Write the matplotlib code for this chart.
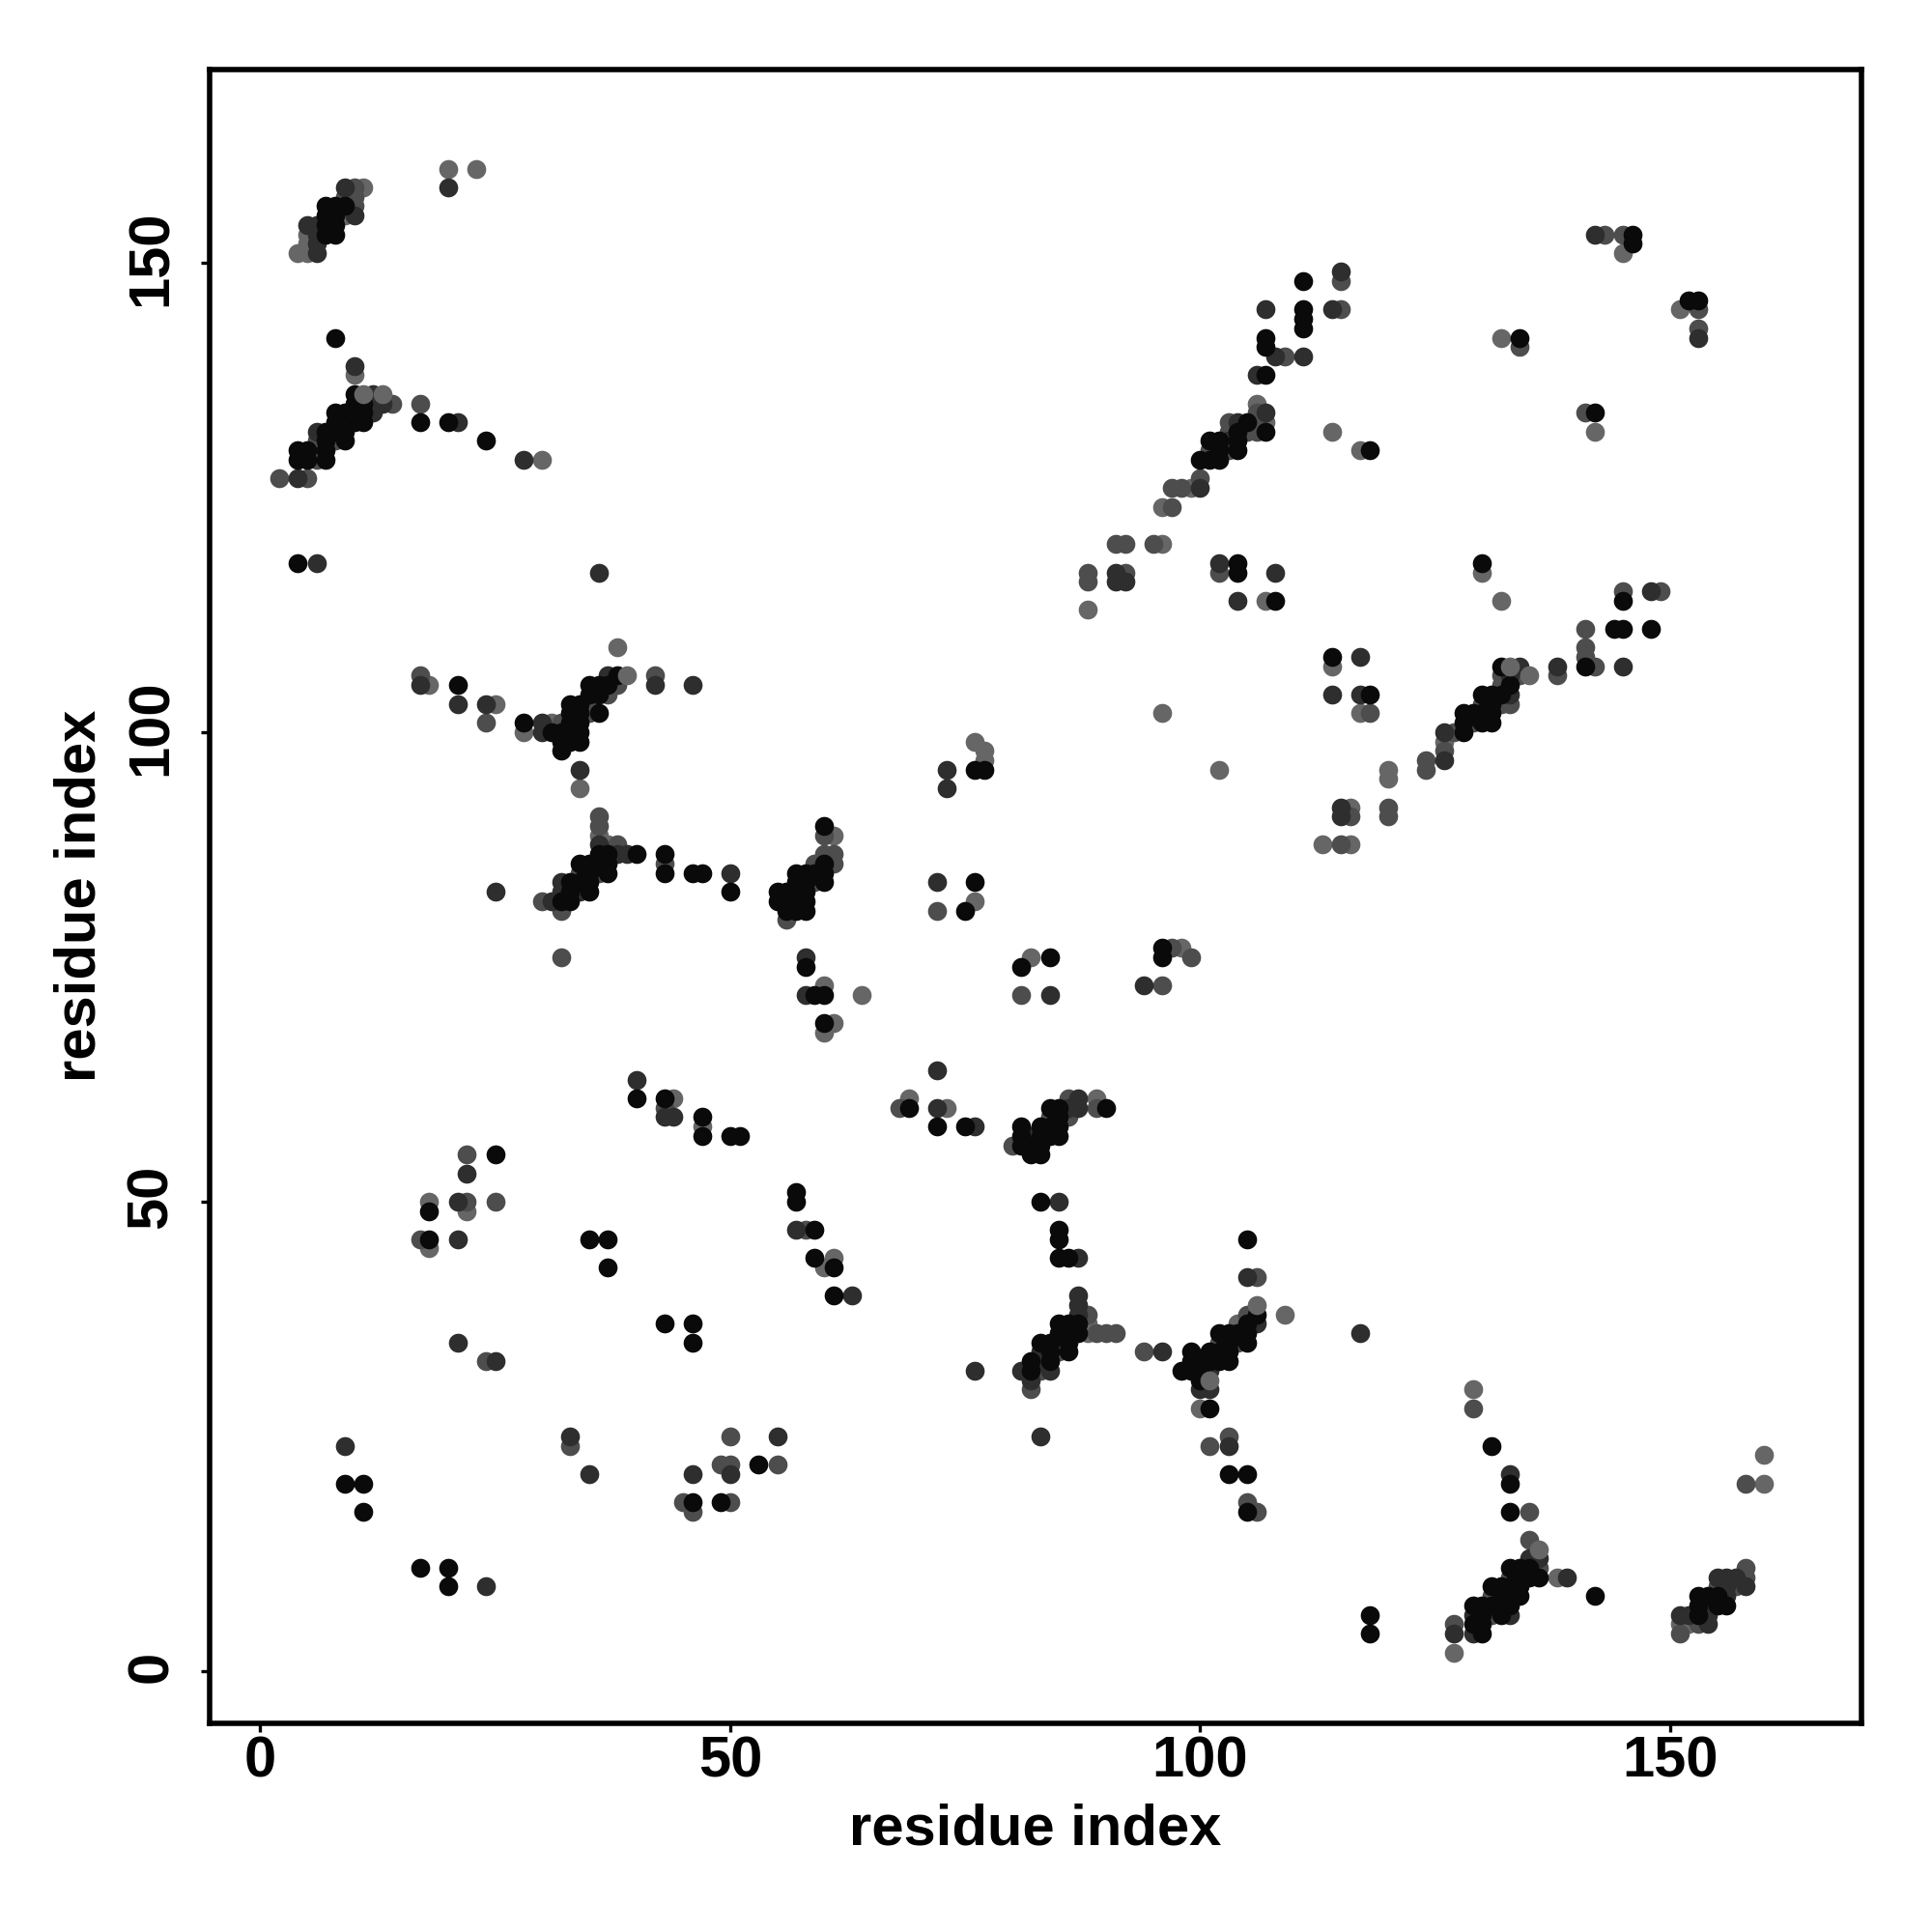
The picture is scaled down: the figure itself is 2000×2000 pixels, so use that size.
import matplotlib
matplotlib.use('Agg')
import matplotlib.pyplot as plt
from matplotlib.transforms import ScaledTranslation

# contacts, grouped by grey level
light_pts = [(23,160),(20,160),(5,151),(5,152),(5,153),(9,155),(11,158),(10,138),(30,129),
             (38,109),(31,101),(34,94),(18,105),(25,103),(28,100),(37,88),(36,89),(61,89),
             (60,73),(61,69),(60,68),(76,82),(76,99),(77,98),(77,97),(82,76),(98,77),
             (69,61),(73,60),(89,61),(44,61),(47,58),(18,45),(18,50),(22,49),(60,43),(61,44),
             (88,37),(88,36),(109,38),(104,37),(100,28),(127,2),(138,10),
             (160,23),(160,20),(129,30),(151,5),(152,5),(106,135),(107,133),(99,126),(96,124),
             (88,113),(96,120),(107,114),(130,117),(132,114),(114,107),(117,102),(96,102),(120,96),(120,95),
             (116,92),(113,88),(116,88),(126,99),(145,151),(151,145),(132,142),(142,132),
             (114,132),(117,130),(4,151),(64,72),(102,96)]
mid_pts = [(10,158),(10,157),(10,156),(9,157),(2,127),(5,127),(12,135),(14,135),(17,135),(32,101),(38,105),
           (37,104),(35,103),(35,102),(42,106),(17,106),(24,101),(36,91),(36,90),(38,88),(34,85),(36,85),
           (30,82),(32,81),(60,89),(60,87),(61,87),(59,86),(61,86),(59,84),(56,80),(43,86),(97,77),
           (94,34),(99,76),(68,60),(86,61),(86,59),(84,59),(80,56),(89,60),(17,46),(22,50),(22,55),(25,50),
           (58,47),(88,38),(89,36),(90,36),(91,36),(85,35),(85,34),(83,32),(82,30),(106,42),(105,38),
           (102,35),(104,35),(101,24),(103,25),(105,18),(106,17),(135,14),(136,11),(131,8),(133,8),(131,6),
           (127,5),(158,20),(135,17),(129,28),(158,11),(158,10),(155,9),(157,9),(153,5),(151,4),
           (103,133),(106,133),(103,132),(105,132),(106,132),(101,130),(103,130),(100,127),(97,126),(98,126),
           (97,124),(88,117),(88,116),(92,117),(91,120),(92,120),(95,120),(102,117),(124,97),(124,96),(126,98),
           (115,88),(120,92),(120,91),(116,91),(127,100),(132,106),(132,105),(134,106),(130,103),(132,103),
           (133,103),(129,101),(138,106),(141,111),(141,109),(141,108),(145,115),(149,115),(153,145),(153,143),
           (134,141),(141,134),(143,153),(145,153),(142,107),(115,145),(115,148),(109,140),(33,24),(24,33),
           (46,17),(45,18),(49,22),(50,22),(50,25),(50,18),(55,22),(118,102),(43,60),(32,76),
           (106,134),(96,73),(81,72),(6,129),(6,130),(6,131),(8,131),(9,133),(133,10),(72,81)]
dark_pts = [(20,158),(9,158),(10,155),(5,154),(6,154),(6,151),(6,152),(6,153),(10,139),(12,136),(12,134),(13,135),
            (4,127),(28,129),(6,132),(21,133),(6,118),(36,117),(37,106),(42,105),(30,101),(30,100),(34,96),
            (17,105),(21,103),(24,103),(46,105),(36,88),(38,87),(39,87),(32,84),(32,83),(34,83),(31,82),(25,83),
            (50,85),(73,96),(73,94),(58,76),(84,72),(94,73),(72,64),(72,60),(76,58),(40,63),(44,59),(87,61),
            (86,60),(87,60),(82,57),(21,46),(21,50),(22,53),(57,47),(63,40),(87,44),(87,40),(87,39),(87,38),
            (83,34),(83,33),(81,32),(84,32),(82,31),(83,25),(76,32),(85,50),(105,42),(106,37),
            (100,30),(101,30),(101,32),(96,34),(103,24),(117,36),(135,12),(136,12),(139,10),(127,4),(129,4),
            (129,6),(133,6),(9,24),(24,9),(33,25),(35,21),(21,35),(25,33),(46,21),(50,21),(55,25),(133,21),
            (156,10),(157,10),(155,10),(156,9),(158,9),(156,8),(154,7),(151,6),(152,6),(154,6),(154,5),
            (104,133),(107,134),(103,131),(100,126),(102,118),(91,117),(91,116),(92,116),(108,117),(104,114),
            (117,108),(117,104),(115,92),(115,91),(114,104),(126,100),(134,107),(133,106),(133,104),(126,97),
            (148,115),(145,107),(138,107),(153,142),(142,153),(107,145),(108,140),(111,140),(114,145),(115,149),
            (106,138),(43,59),(72,84),(58,72)]
black_pts = [(7,153),(8,153),(7,154),(8,154),(7,155),(8,155),(7,156),(8,156),(9,156),
             (8,142),(10,136),(10,135),(11,135),(8,134),(9,134),(10,134),(11,134),(8,133),(10,133),(11,133),
             (7,132),(8,132),(9,132),(7,131),(9,131),(4,130),(5,130),(7,130),(4,129),(5,129),(7,129),
             (17,133),(20,133),(24,131),(4,118),(38,106),(35,105),(36,105),(37,105),(35,104),(36,104),
             (33,103),(34,103),(36,102),(33,102),(34,102),(33,101),(34,101),(31,100),(32,100),(33,100),(34,100),
             (32,99),(33,99),(34,99),(32,98),(21,105),(28,101),
             (36,87),(37,87),(40,87),(34,86),(35,86),(36,86),(37,86),(35,85),(37,85),(33,84),(34,84),(35,84),
             (33,83),(35,83),(32,82),(33,82),(43,87),(43,85),(46,85),(47,85),(50,83),
             (60,90),(60,86),(57,85),(58,85),(59,85),(60,85),(57,84),(58,84),(60,84),(55,83),(56,83),(57,83),(58,83),
             (55,82),(56,82),(57,82),(58,82),(56,81),(57,81),(58,81),(58,75),(59,72),(60,72),(60,69),
             (76,84),(75,81),(76,96),(77,96),(96,77),(96,76),(81,75),(84,76),
             (69,60),(72,58),(75,58),(90,60),(84,60),(85,60),(85,59),(81,58),(83,58),(84,58),(85,58),
             (81,57),(83,57),(84,57),(85,57),(81,56),(82,56),(83,56),(82,55),(83,55),
             (40,61),(43,61),(47,59),(47,57),(50,57),(51,57),(18,46),(18,49),(25,55),(35,46),(37,46),(37,43),
             (57,51),(57,50),(59,47),(59,44),(61,43),(61,40),(83,50),(85,47),(85,46),(85,44),(86,44),
             (85,37),(86,37),(87,37),(85,36),(86,36),(87,36),(83,35),(84,35),(86,35),(84,34),(86,34),(82,33),(84,33),(82,32),
             (105,46),(106,38),(105,37),(102,36),(103,36),(104,36),(105,36),(103,35),(105,35),(99,34),(101,34),(102,34),(103,34),
             (99,33),(100,33),(101,33),(102,33),(103,33),(98,32),(99,32),(100,32),(100,31),(101,28),
             (103,21),(105,21),(105,17),(118,6),(118,4),(142,8),(131,24),(133,20),(133,17),
             (133,11),(134,11),(135,11),(134,10),(135,10),(136,10),(131,9),(132,9),(133,9),(134,9),(132,8),(134,8),
             (129,7),(130,7),(131,7),(132,7),(133,7),(130,6),(132,6),(129,5),(130,5),(130,4),
             (153,8),(154,8),(155,8),(153,7),(155,7),(156,7),(153,6),
             (9,20),(11,20),(11,17),(17,11),(20,11),(20,9),(43,37),(46,37),(46,35),(46,18),(49,18),(53,22),
             (105,133),(104,132),(107,132),(101,131),(102,131),(104,131),(102,130),(104,130),(100,129),(101,129),(102,129),
             (104,118),(104,117),(108,114),(130,118),(114,108),(118,104),(130,104),(131,104),(132,104),(131,103),
             (128,102),(129,102),(130,102),(131,102),(128,101),(130,101),(131,101),(128,100),(132,107),(133,105),
             (141,107),(144,111),(145,111),(148,111),(145,114),(152,146),(153,146),(134,142),(142,134),(146,153),(146,152),
             (107,138),(107,142),(107,141),(111,143),(111,144),(111,145),(111,148),(118,130)]
# light dots that sit above the black ones in the picture
top_pts = [(11,136),(13,136),(39,106),(101,31),(136,13),(135,106),(133,107),(106,39)]

tick_vals = [0, 50, 100, 150]

plt.rcParams['font.family'] = ['Liberation Sans', 'DejaVu Sans']
plt.rcParams['font.weight'] = 'bold'

fig = plt.figure(figsize=(10, 10), dpi=200)
ax = fig.add_axes([216.7 / 2000, 1 - 1784 / 2000, (1927 - 216.7) / 2000, (1784 - 71.5) / 2000])

# draw light to dark so the black dots sit on top
for pts, col in [(light_pts, '#666666'), (mid_pts, '#4d4d4d'), (dark_pts, '#2e2e2e'),
                 (black_pts, '#0a0a0a'), (top_pts, '#666666')]:
    xs, ys = zip(*pts)
    ax.scatter(xs, ys, s=50, c=col, linewidths=0, zorder=2)

ax.set_xlim(-5.41, 170.36)
ax.set_ylim(-5.56, 170.6)
ax.set_xticks(tick_vals)
ax.set_yticks(tick_vals)
ax.tick_params(length=3.2, width=1.2, labelsize=21.5)
ax.tick_params(axis='x', pad=1.2)
ax.tick_params(axis='y', pad=8.2)
# rotated labels sit a little low otherwise
nudge = ScaledTranslation(0, 1.8 / 72, fig.dpi_scale_trans)
for lab in ax.get_yticklabels():
    lab.set_rotation(90)
    lab.set_va('center')
    lab.set_transform(lab.get_transform() + nudge)
for sp in ax.spines.values():
    sp.set_linewidth(2.0)

ax.set_xlabel('residue index', fontsize=21.5, fontweight='bold')
ax.set_ylabel('residue index', fontsize=21.5, fontweight='bold')
ax.xaxis.set_label_coords(0.5, -0.048)
ax.yaxis.set_label_coords(-0.062, 0.5)

fig.savefig('out.png', dpi=200)
